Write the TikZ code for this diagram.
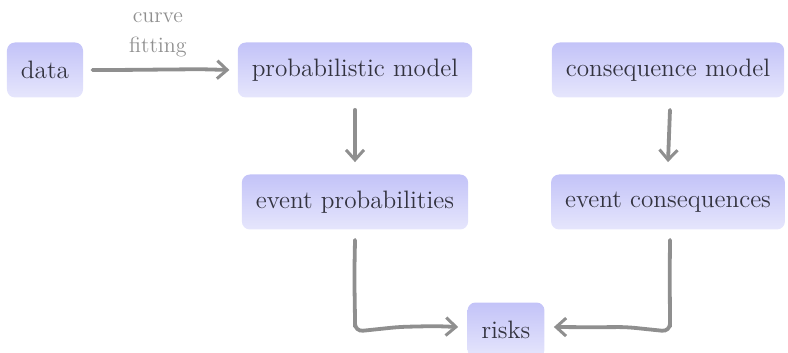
\documentclass[tikz,border=0pt]{standalone}
\usetikzlibrary{positioning, arrows.meta, decorations.pathmorphing, calc}
\definecolor{boxTop}{HTML}{C3C3F8}
\definecolor{boxBot}{HTML}{E6E6FC}
\definecolor{boxText}{HTML}{33333F}
\definecolor{linkGray}{HTML}{8F8F8F}
\tikzset{
  block/.style={rounded corners=4pt, top color=boxTop, bottom color=boxBot,
    draw=none, text=boxText, font=\fontsize{12.6}{15}\selectfont,
    minimum height=27.5pt, inner xsep=7pt},
  link/.style={draw=linkGray, line width=1.9pt, line cap=round, rounded corners=4pt,
    -{Straight Barb[length=5pt, width=9pt, line width=1.5pt]},
    decoration={random steps, segment length=18pt, amplitude=0.5pt}, decorate},
  note/.style={text=linkGray, font=\fontsize{11}{15}\selectfont, align=center}
}

\begin{document}
\begin{tikzpicture}[x=0.5pt, y=-0.5pt]
  \useasboundingbox (0,0) rectangle (788,353);
  \node[block] (data) at (45,70) {data};
  \node[block] (pmodel) at (355,70) {probabilistic model};
  \node[block] (cmodel) at (668,70) {consequence model};
  \node[block] (eprob) at (355,202) {event probabilities};
  \node[block] (econs) at (668,202) {event consequences};
  \node[block] (risks) at (506,330) {risks};

  \draw[link] (data.east) ++(9,0) coordinate (d0) -- ($(pmodel.west)+(-8,0)$) coordinate (p0);
  \node[note, above=3pt] at ($(d0)!0.5!(p0)+(-3,0)$) {curve\\fitting};

  \draw[link] ($(pmodel.south)+(0,12)$) -- ($(eprob.north)+(0,-12)$);
  \draw[link] ($(cmodel.south)+(2,12)$) -- ($(econs.north)+(0,-12)$);

  % both branches meet at the risks box
  \draw[link] ($(eprob.south)+(0,10)$) |- ($(risks.west)+(-9,-3)$);
  \draw[link] ($(econs.south)+(2,10)$) |- ($(risks.east)+(9,-3)$);
\end{tikzpicture}
\end{document}
